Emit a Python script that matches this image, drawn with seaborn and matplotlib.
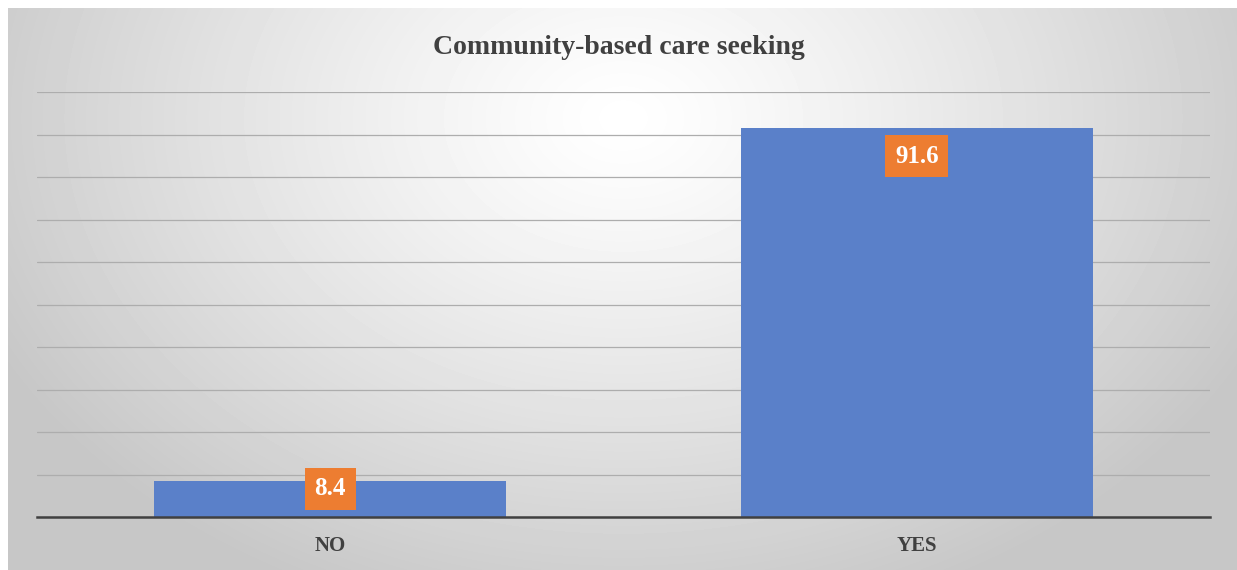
import numpy as np
import pandas as pd
import matplotlib
matplotlib.use("Agg")
import matplotlib.pyplot as plt
import seaborn as sns

categories = ["NO", "YES"]
values = [8.4, 91.6]
label_texts = ["8.4", "91.6"]
title = "Community-based care seeking"

sns.set_theme(style="white")
plt.rcParams['font.family'] = ['Liberation Serif', 'DejaVu Serif']

W, H = 1237, 570
fig = plt.figure(figsize=(W / 100, H / 100), dpi=100, facecolor="white")

# background radial gradient panel
bg = fig.add_axes([8 / W, 0, 1 - 8 / W, 1 - 8 / H], zorder=0)
yy, xx = np.mgrid[0:562, 0:1229]
dx = (xx - 615) / 700.0
dy = (yy - 110) / 520.0
r = np.sqrt(dx ** 2 + dy ** 2)
val = np.clip(1.0 - 0.22 * r ** 1.2, 0.78, 1.0)
bg.imshow(val, cmap="gray", vmin=0, vmax=1, aspect="auto", interpolation="bilinear")
bg.axis("off")

ax = fig.add_axes([37 / W, (H - 517) / H, 1173 / W, 425 / H], zorder=1)
ax.patch.set_alpha(0)
df = pd.DataFrame({"cat": categories, "val": values})
sns.barplot(data=df, x="cat", y="val", order=categories, color="#5A80C9",
            saturation=1, width=0.6, linewidth=0, ax=ax, zorder=3)
ax.set_ylim(0, 100)
ax.set_xlim(-0.5, 1.5)
ax.set_yticks(np.arange(0, 101, 10))
ax.yaxis.grid(True, color="#adadad", linewidth=0.9, zorder=0)
ax.set_axisbelow(True)
ax.tick_params(axis="y", left=False, labelleft=False)
ax.tick_params(axis="x", length=0, pad=14)
for lbl in ax.get_xticklabels():
    lbl.set_fontweight("bold")
    lbl.set_fontsize(15)
    lbl.set_color("#404040")
ax.set_xlabel("")
ax.set_ylabel("")
for s in ["left", "right", "top"]:
    ax.spines[s].set_visible(False)
ax.spines["bottom"].set_color("#404040")
ax.spines["bottom"].set_linewidth(1.8)
ax.spines["bottom"].set_zorder(4)

for i, (v, t) in enumerate(zip(values, label_texts)):
    ypos = max(v - 6.7, 6.6)
    ax.text(i, ypos, t, ha="center", va="center", fontsize=18, fontweight="bold",
            color="white", zorder=5,
            bbox=dict(boxstyle="square,pad=0.38", facecolor="#ED7D31", edgecolor="none"))

fig.text(0.5, 1 - 48 / H, title, ha="center", va="center", fontsize=20,
         fontweight="bold", color="#404040")

fig.savefig("out.png", dpi=100, facecolor="white")
